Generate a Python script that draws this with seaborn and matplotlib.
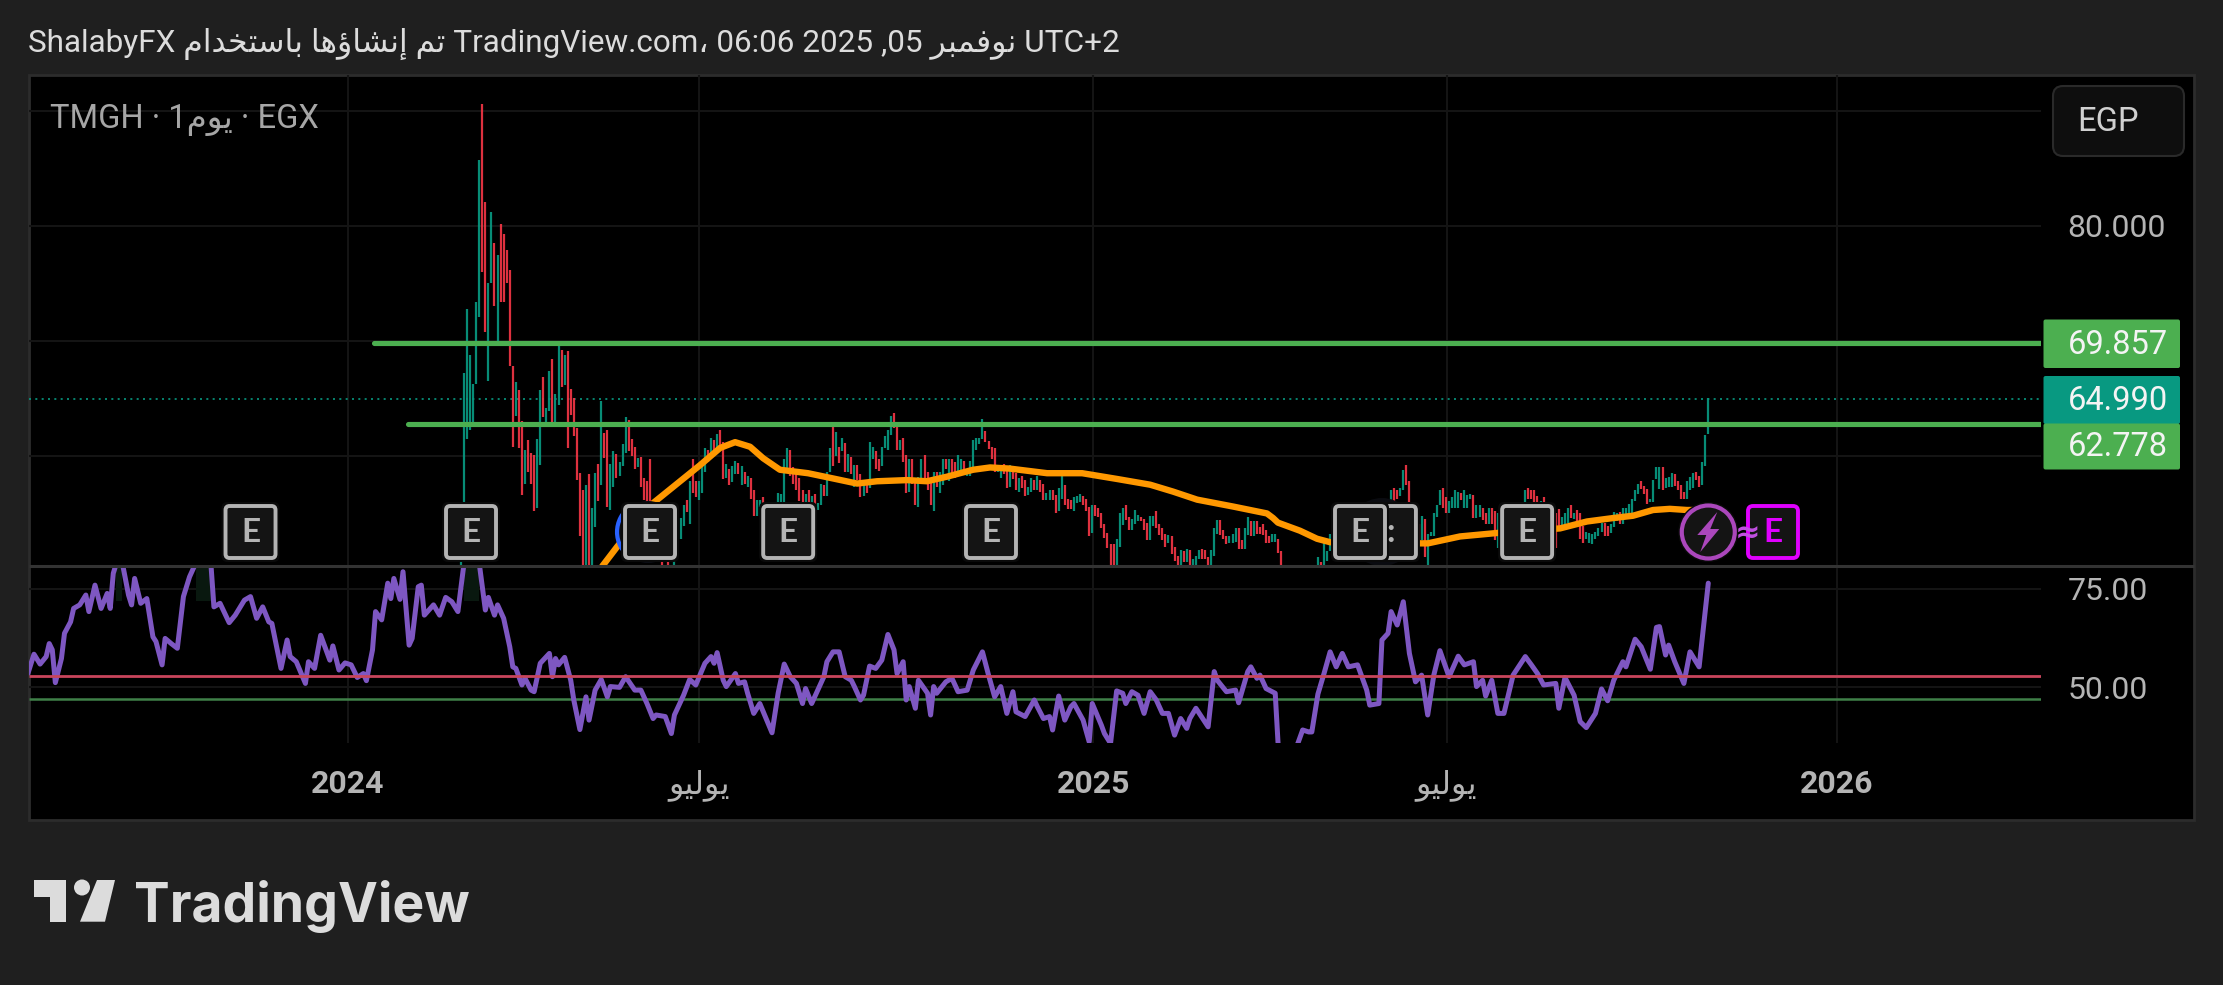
import matplotlib
matplotlib.use("Agg")
import numpy as np
import pandas as pd
import matplotlib.pyplot as plt
import seaborn as sns
from matplotlib.patches import FancyBboxPatch, Circle, Polygon, Rectangle, Arc

# ---------- data (x values are trading-bar numbers, 0 = start of 2024) ----------
symbol = "TMGH"
last_price = 64.99
level_high = 69.857
level_low = 62.778
level_high_start = 8.5
level_low_start = 19.7
rsi_upper = 52.87
rsi_lower = 47.03
last_bar = 446

bar_high = [
 56.0,67.2,72.8,68.8,66.3,73.4,85.7,90.6,82.1,75.0,
 81.2,78.5,77.5,80.2,79.3,77.9,76.2,67.8,66.4,65.7,
 63.0,60.5,61.4,60.3,60.1,61.5,65.7,66.9,64.2,67.4,
 68.4,65.4,69.8,69.2,68.8,69.1,65.8,65.0,62.4,58.5,
 57.0,57.5,58.4,55.5,58.5,59.3,64.8,62.0,62.3,59.3,
 60.4,60.2,59.5,61.0,63.4,63.1,61.5,60.8,59.8,59.9,
 58.1,57.8,59.7,55,55,55,55,55,55,55,
 55,55,54.6,55.7,56.2,57.8,59.7,57.8,57.8,59.5,
 60.7,60.5,
 61.6,61.4,61.9,62.3,61.2,59.3,58.9,59.1,59.6,59.4,
 59.1,58.6,58.3,58.1,57.0,56.2,56.2,56.4,55,55,
 55,55,56.8,56.7,59.7,60.7,60.5,59.0,58.4,58.1,
 57.0,56.7,57.0,56.5,56.7,55.9,57.6,57.5,58.6,60.7,
 62.6,62.1,60.8,61.6,61.1,60.2,59.9,59.2,59.2,58.4,
 57.7,57.5,61.2,60.8,60.4,59.7,60.8,61.7,62.3,63.5,
 63.7,62.6,61.4,61.6,60.1,59.7,59.7,58.1,58.2,59.7,
 60.1,58.6,58.1,58.6,58.6,58.6,59.7,59.7,59.7,59.7,
 59.5,60.1,59.7,59.6,58.8,59.6,61.4,61.6,61.6,63.2,
 62.2,61.3,60.8,60.7,59.2,
 58.9,59.3,59.1,59.2,58.6,58.5,58.1,58.3,57.9,57.3,
 58.1,57.9,58.3,57.9,57.6,56.8,57.0,57.0,56.6,57.2,58.6,
 57.5,56.3,56.2,56.4,56.5,56.7,56.5,56.3,55.6,55.7,
 55.7,55.5,55.0,54.1,53.3,52.3,52.3,52.8,55.0,55.5,
 55.7,54.7,54.5,55.3,54.9,54.7,54.5,54.2,54.8,54.8,
 55.2,54.1,53.7,53.2,53.1,53.0,52.1,51.3,51.8,51.7,
 51.9,51.8,51.0,51.3,51.8,51.9,51.8,51.2,51.8,53.7,
 54.4,54.4,53.6,53.0,53.0,53.2,53.7,53.7,52.7,53.7,
 54.7,54.3,54.3,54.3,53.8,54.1,53.6,53.0,53.2,53.2,
 52.8,51.7,
 50,50,50,50,50,50,50,50,50,50,50,
 51.2,50.8,52.8,51.7,53.2,
 55,55,55,55,55,55,55,55,55,55,55,55,55,55,55,55,55,55,55,
 57.0,57.2,57.0,57.2,58.8,59.2,57.8,56.0,54.8,54.1,
 54.8,54.5,53.2,53.4,55.0,55.7,57.0,57.2,56.4,56.1,
 56.4,57.0,56.9,56.8,57.0,56.6,56.7,56.6,55.7,55.7,
 55.5,55.0,55.5,55.5,55.2,
 55,55,55,55,55,55,55,55,55,
 57.0,57.2,57.0,57.0,56.5,56.1,56.4,
 55,55,55,55,
 55.4,54.7,55.0,55.5,55.7,55.0,55.3,55.0,53.9,53.4,
 53.3,53.2,53.4,53.7,54.2,54.2,53.9,54.1,55.1,55.0,
 55.1,55.5,55.5,55.8,56.3,57.0,57.6,57.8,57.4,57.1,
 56.3,57.9,59.0,59.0,59.0,58.1,58.2,58.5,58.4,57.8,
 57.5,56.9,57.8,58.2,58.5,58.6,58.3,59.5,61.8,65.0,
]
bar_low = [
 50.0,55.9,61.5,62.3,62.8,66.3,72.1,76.0,70.8,66.5,
 75.0,73.0,69.9,73.4,73.4,75.0,67.8,60.8,63.5,60.7,
 56.6,57.6,58.6,57.6,55.2,55.5,59.2,63.4,62.6,63.9,
 62.5,62.6,64.4,66.0,66.2,60.7,63.6,61.7,57.9,53.0,
 50,50,50,50,53.8,56.1,57.5,59.8,55.6,55.3,
 57.3,58.1,58.3,59.1,60.3,60.4,60.0,58.9,59.0,57.3,
 56.2,55.5,55.7,52,52,52,50,52,50,52,
 50,52,52.8,53.9,55.1,54.1,56.8,56.4,56.2,56.8,
 58.6,59.5,
 60.0,60.2,60.4,60.5,58.0,58.1,57.5,57.7,58.4,58.4,
 57.5,57.6,57.3,56.3,54.8,54.8,55.6,55.7,54,54,
 54,54,56.0,56.0,56.0,58.8,58.3,57.6,57.0,56.1,
 56.0,56.0,55.9,55.7,55.7,55.3,55.7,56.5,56.5,58.6,
 59.1,60.0,59.4,60.4,58.6,58.6,58.4,57.3,57.9,56.4,
 56.5,56.8,57.2,59.7,58.9,58.7,59.1,60.7,60.5,61.8,
 62.4,60.5,60.5,59.5,56.8,56.9,57.6,55.7,55.6,58.0,
 58.1,57.0,55.7,55.2,57.3,56.8,57.5,58.9,57.8,58.4,
 58.1,58.3,58.8,58.4,58.3,58.3,58.9,60.5,61.0,61.5,
 61.2,60.6,59.7,58.6,58.6,
 58.1,58.4,57.2,57.3,58.0,57.0,56.9,57.2,56.5,56.6,
 56.9,57.0,57.0,56.9,56.2,56.2,56.2,56.2,55.0,55.2,56.3,
 55.7,55.4,55.4,55.2,55.9,56.0,55.7,55.2,53.0,53.3,
 54.8,54.7,53.7,52.9,52.0,50,50,50,52.1,54.0,
 54.4,53.6,53.6,54.1,54.3,54.3,53.6,52.7,52.7,53.9,
 53.7,53.1,52.7,52.1,52.4,51.5,50.9,50,50,50.8,
 50.8,50,50,50.5,51.0,51.0,51.0,50,50,51.3,
 53.2,53.1,52.8,52.3,52.4,52.4,52.5,51.9,51.9,51.9,
 53.1,53.0,53.0,53.2,53.2,53.1,52.4,52.4,52.5,52.5,
 51.6,50,
 48,48,48,48,48,48,48,48,48,48,48,
 50,50,50,50.9,51.7,
 52,52,52,52,52,52,52,52,52,52,52,52,52,50.6,50.6,50.4,52,52,52,
 56.0,56.0,56.3,56.5,57.0,57.5,55.3,53.9,52.7,52.3,
 52.7,51.2,50.4,53.0,53.0,54.7,55.7,55.5,55.0,55.0,
 55.5,55.5,55.5,56.2,55.5,55.5,56.3,54.6,54.6,54.7,
 54.4,54.1,54.1,54.1,52.7,
 52,52,52,52,52,52,52,52,52,
 55.9,56.3,56.3,56.0,56.0,55.9,55.9,
 52,52,52,52,
 53.6,53.6,53.9,54.2,54.6,54.5,54.0,52.8,52.4,52.8,
 52.4,52.3,52.8,53.0,53.4,53.0,53.0,53.3,53.8,54.3,
 54.1,54.1,54.6,54.5,55.0,56.1,56.7,57.1,56.7,55.8,
 56.0,56.0,58.0,57.1,57.0,57.2,57.3,57.3,57.4,57.0,
 56.3,56.3,56.3,57.0,57.2,57.9,57.3,57.5,59.1,61.9,
]
bar_dir = ("GGGGGGGRRG" "GRGRRRRRGR" "RGRRRGGRGG" "RGGRGRRRRR" "RGRGGRGRRG"
           "GRGGGRRRGR" "RRRGRGRRRG" "GGGGRGRRGG" "GR"
           "GRGRRGRGGR" "GRGRRGGRGR" "GRGGGGRRRR" "RGRGRGGRGG" "RGRGRGRGRR"
           "GRGGRRGGGG" "RRGRRGRRGG" "RRRGRGGRGR" "RGGRGGGGGG" "RRRRG"
           "GRRGRRGRRG" "GRGRRGGRRGG" "RRRGGGRRRG" "RRRRRRRGGG" "RRGGGRRRGG"
           "RRRRGRRRGR" "GRGGGRRRGG" "GRRRGGGRRG" "GRGRRRRRGG" "RR"
           "RRRGGRGRGRG" "GRGGG" "GRGRGGRGRGRGRRRGRGR"
           "GRRGGRRRRR" "GRGGGGGRRG" "GGGRGGGRGG" "RRGRR"
           "GRGRGGRGR" "GRRRRGR" "GRGR"
           "RGGGRGRRRG" "GGGGGRRGGG" "RGGGGGGRRR" "GGGGRGGGRR" "RRGGGRRGGG")

ema_bar = [83.3,88.2,100,115.4,122,126.9,131.8,136.1,141.6,150.8,158,166.9,173.4,183.3,189.8,196.4,
           204.9,210.5,217,229.2,240.7,252.1,263,270.5,278.4,290.2,301.3,303.3,304.9,312.1,317.7,322,
           335.7,349.2,354.1,364.6,376.7,397.4,406.2,414.8,421.3,427.9,433.4,439,443.3]
ema_val = [50.4,52.1,55.9,59.2,60.7,61.2,60.8,59.8,58.8,58.5,58.1,57.6,57.8,57.9,57.8,58.2,
           58.8,59.0,58.9,58.5,58.5,58.0,57.5,56.9,56.2,55.6,55.0,54.6,54.2,53.5,52.8,52.5,
           52.2,52.4,52.4,53.0,53.3,53.7,54.3,54.6,54.8,55.3,55.4,55.3,55.3]

rsi_bar = [-105,-103,-101,-99,-98,-97,-96,-94,-93,-91,-90,-88,-86,-85,-83,-81,-79,-78,-77,-76,-74,-72,-71,-70,-68,-66,
 -64,-63,-61,-60,-58,-56,-54,-52,-50,-45,-44,-42,-39,-37,-34,-32,-30,-28,-26,-25,-22,-20,-19,-17,-14,-13,-11,-9,-6,-5,-3,-1,
 1,3,5,6,8,9,11,13,14,15,17,18,20,21,23,24,25,28,30,32,34,36,38,43,45,46,48,49,51,53,54,55,57,58,60,61,63,66,67,68,69,71,73,74,76,78,79,81,83,85,86,89,
 91,94,96,98,100,101,104,106,107,110,112,114,117,119,120,121,123,124,127,128,130,131,133,135,139,141,143,145,147,149,150,152,155,156,157,159,161,163,165,166,168,169,171,173,175,177,179,180,182,183,184,186,187,190,
 191,192,193,196,198,200,203,205,208,210,212,214,216,218,219,222,225,226,228,230,231,233,235,237,238,241,243,244,247,
 248,250,252,254,255,257,259,261,263,265,267,269,271,273,275,276,278,282,284,285,288,291,292,295,296,298,299,301,304,305,311,313,315,316,318,320,322,324,326,328,331,334,335,338,339,341,342,344,346,348,350,352,354,356,358,361,364,366,369,370,372,373,375,377,379,382,386,388,390,392,396,397,399,402,404,406,409,411,413,415,418,419,422,424,427,429,430,432,433,435,438,440,443,446]
rsi_val = [53.5,58.4,55.9,57.8,61.1,59.5,51.2,57.3,63.7,66.6,70.0,70.9,73.4,69.2,75.9,70.0,73.8,70.0,78.9,81.4,81.4,73.4,70.9,77.6,71.3,72.5,
 62.8,61.6,55.7,62.4,61.1,59.9,73.0,78.0,81.4,81.4,70.4,71.3,66.4,68.3,72.1,73.0,67.5,70.4,66.6,66.2,54.8,62.0,57.8,56.5,51.0,56.5,54.8,63.2,56.9,60.5,54.4,56.2,
 55.7,52.5,53.5,51.7,59.5,69.2,67.1,76.4,72.5,77.6,72.3,79.3,60.7,62.4,75.5,75.9,68.3,70.9,68.3,72.8,71.7,69.2,81.4,81.4,69.6,72.8,68.3,70.9,67.5,60.3,55.2,54.8,50.6,52.3,49.3,48.9,56.1,58.6,52.7,57.3,55.7,57.6,51.8,46.8,39.3,47.6,41.7,49.3,52.0,47.6,50.2,50.0,
 52.7,49.3,49.3,45.9,42.1,43.0,42.6,38.3,43.0,48.0,52.0,50.6,56.1,57.8,56.1,58.8,51.8,50.2,53.5,51.0,51.4,48.5,43.4,45.9,38.5,48.5,55.9,52.7,51.0,45.9,49.7,45.9,51.0,52.7,56.5,59.0,59.0,52.7,51.8,50.2,46.8,48.0,55.4,54.8,56.9,63.4,59.5,53.5,56.5,46.8,50.2,44.7,51.8,48.5,
 43.0,50.2,48.5,51.4,52.3,48.9,49.3,54.4,59.0,53.1,47.6,50.2,43.4,48.9,43.8,42.6,46.8,45.1,42.1,42.6,39.2,47.8,41.7,45.1,45.9,41.7,36.2,45.9,40.4,
 38.3,35.8,49.1,48.5,45.9,48.9,48.0,43.4,48.9,46.8,43.4,43.4,37.9,42.1,39.6,42.1,44.7,40.0,54.0,51.8,48.9,49.3,46.1,54.0,55.2,52.3,53.1,49.7,48.5,34.9,34.9,39.2,38.7,38.7,48.3,53.5,59.0,55.2,58.6,55.2,55.7,49.3,45.5,45.9,62.0,63.7,69.2,65.8,71.7,58.6,51.4,53.1,43.0,53.1,59.3,52.7,57.9,55.7,56.5,50.2,51.8,47.8,51.8,43.4,43.4,53.1,57.8,55.7,53.5,50.6,51.0,44.7,52.5,48.0,41.3,39.8,43.4,49.6,46.6,51.8,56.5,55.2,62.2,60.3,54.6,65.2,65.4,58.2,60.7,56.5,51.0,59.0,55.2,76.4]

earnings_bars = [-32, 40.3, 99, 144.3, 210.8, 331.8, 386.6]
dividend_bar = 340.3
split_bar = 99
time_tick_bars = [0, 115, 244.3, 360.2, 488.2]
price_ticks = [60, 70, 80, 90]
price_tick_labels = ["", "", "80.000", ""]
rsi_ticks = [50, 75]
rsi_tick_labels = ["50.00", "75.00"]

# ---------- minimal Arabic shaping: matplotlib draws glyphs left to right without joining ----------
FORMS = {"ا": (0xFE8D, 0xFE8E), "إ": (0xFE87, 0xFE88), "ؤ": (0xFE85, 0xFE86), "د": (0xFEA9, 0xFEAA),
         "ر": (0xFEAD, 0xFEAE), "و": (0xFEED, 0xFEEE),
         "ب": (0xFE8F, 0xFE90, 0xFE91, 0xFE92), "ت": (0xFE95, 0xFE96, 0xFE97, 0xFE98),
         "خ": (0xFEA5, 0xFEA6, 0xFEA7, 0xFEA8), "س": (0xFEB1, 0xFEB2, 0xFEB3, 0xFEB4),
         "ش": (0xFEB5, 0xFEB6, 0xFEB7, 0xFEB8), "ف": (0xFED1, 0xFED2, 0xFED3, 0xFED4),
         "ل": (0xFEDD, 0xFEDE, 0xFEDF, 0xFEE0), "م": (0xFEE1, 0xFEE2, 0xFEE3, 0xFEE4),
         "ن": (0xFEE5, 0xFEE6, 0xFEE7, 0xFEE8), "ه": (0xFEE9, 0xFEEA, 0xFEEB, 0xFEEC),
         "ي": (0xFEF1, 0xFEF2, 0xFEF3, 0xFEF4)}

def ar(text):
    out = []
    for k, ch in enumerate(text):
        f = FORMS.get(ch)
        if f is None:
            out.append(ch)
            continue
        prev = text[k - 1] if k else " "
        nxt = text[k + 1] if k + 1 < len(text) else " "
        join_prev = prev in FORMS and len(FORMS[prev]) == 4
        join_next = len(f) == 4 and nxt in FORMS
        idx = (3 if join_next else 1) if join_prev else (2 if join_next else 0)
        out.append(chr(f[idx]))
    return "".join(reversed(out))

title = "ShalabyFX " + ar("تم إنشاؤها باستخدام") + " TradingView.com، 06:06 2025 ,05 " + ar("نوفمبر") + " UTC+2"
legend_text = symbol + " · 1" + ar("يوم") + " · EGX"
july = ar("يوليو")
time_tick_labels = ["2024", july, "2025", july, "2026"]

# ---------- style ----------
BG = "#1f1f1f"
GREEN_C = "#089981"
RED_C = "#f23645"
LEVEL = "#4caf50"
ORANGE = "#ff9800"
PURPLE = "#7e57c2"
GRID = "#141414"
MUTED = "#b4b4b4"
sns.set_theme(style="dark", rc={"figure.facecolor": BG, "axes.facecolor": "none", "savefig.facecolor": BG})
FAM = ["Roboto", "DejaVu Sans"]
plt.rcParams["font.family"] = FAM

W, H = 2223, 985
fig = plt.figure(figsize=(W / 100, H / 100), dpi=100)

def px_axes(x0, y0, x1, y1, **kw):
    return fig.add_axes([x0 / W, 1 - y1 / H, (x1 - x0) / W, (y1 - y0) / H], **kw)

# black panel behind everything
bg = px_axes(0, 0, W, H, zorder=0)
bg.set_xlim(0, W); bg.set_ylim(H, 0); bg.axis("off")
bg.add_patch(Rectangle((28.5, 75), 2165.5, 745, fc="#000000", ec="#2c2c2c", lw=2))

XL = (-104.8, 555.1)
ax = px_axes(28.5, 75, 2041, 566, zorder=1)
rs = px_axes(28.5, 567, 2041, 743, zorder=1)

for a in (ax, rs):
    a.set_xlim(*XL)
    a.set_xticks(time_tick_bars)
    a.grid(True, color=GRID, lw=1.5)
    a.set_axisbelow(True)
    for s in a.spines.values():
        s.set_visible(False)
    a.patch.set_alpha(0)

# ---- price pane ----
ax.set_ylim(50.43, 93.13)
n = min(len(bar_high), len(bar_low), len(bar_dir))
bars = pd.DataFrame({"bar": np.arange(last_bar - n + 1, last_bar + 1),
                     "high": bar_high[:n], "low": bar_low[:n], "dir": list(bar_dir[:n])})
for key, col in (("G", GREEN_C), ("R", RED_C)):
    sub = bars[bars["dir"] == key]
    ax.vlines(sub["bar"], sub["low"], sub["high"], color=col, lw=1.6, alpha=0.92, zorder=3)

ax.hlines(last_price, XL[0], XL[1], color=GREEN_C, lw=1.2, linestyles=(0, (1.2, 2.6)), zorder=2)
ax.hlines(level_high, level_high_start, XL[1] + 5, color=LEVEL, lw=3.7, capstyle="round", zorder=4)
ax.hlines(level_low, level_low_start, XL[1] + 5, color=LEVEL, lw=3.7, capstyle="round", zorder=4)
sns.lineplot(x=ema_bar, y=ema_val, ax=ax, color=ORANGE, lw=4.6, estimator=None, sort=False,
             legend=False, zorder=5, solid_joinstyle="round")
ax.set_xlabel(""); ax.set_ylabel("")
ax.yaxis.tick_right()
ax.set_yticks(price_ticks, price_tick_labels)
ax.tick_params(axis="y", length=0, pad=19, labelsize=23, labelcolor=MUTED)
ax.tick_params(axis="x", length=0, labelbottom=False)

# ---- RSI pane ----
rs.set_ylim(35.9, 80.5)
rv = np.array(rsi_val, float)
rs.fill_between(rsi_bar, 72, rv, where=rv > 81, color="#09180f", lw=0, zorder=1)
rs.hlines(rsi_upper, XL[0], XL[1], color="#c8455c", lw=2.0, zorder=4)
rs.hlines(rsi_lower, XL[0], XL[1], color="#3f8048", lw=1.8, zorder=2)
sns.lineplot(x=rsi_bar, y=rsi_val, ax=rs, color=PURPLE, lw=3.6, estimator=None, sort=False,
             legend=False, zorder=3, solid_joinstyle="round")
rs.set_xlabel(""); rs.set_ylabel("")
rs.yaxis.tick_right()
rs.set_yticks(rsi_ticks, rsi_tick_labels)
rs.tick_params(axis="y", length=0, pad=19, labelsize=23, labelcolor=MUTED)
rs.set_xticks(time_tick_bars, time_tick_labels)
rs.tick_params(axis="x", length=0, pad=19, labelsize=23, labelcolor=MUTED)
for lab in rs.get_xticklabels():
    if lab.get_text()[:2] == "20":
        lab.set_fontweight("bold")

# ---- overlay in pixel coordinates: tags, markers, title, logo ----
ov = px_axes(0, 0, W, H, zorder=5)
ov.set_xlim(0, W); ov.set_ylim(H, 0); ov.axis("off"); ov.patch.set_alpha(0)

ov.plot([28.5, 2194], [566, 566], color="#333333", lw=2.2, solid_capstyle="butt")

def rbox(x0, y0, x1, y1, r=4, **kw):
    ov.add_patch(FancyBboxPatch((x0, y0), x1 - x0, y1 - y0, boxstyle=f"round,pad=0,rounding_size={r}", **kw))

fig.canvas.draw()
bar_px = lambda b: ax.transData.transform((b, 60))[0]

ov.text(28, 44, title, color="#dcdcdc", fontsize=22.7, va="center", ha="left", family=FAM)
ov.text(50, 120, legend_text, color="#a6a6a6", fontsize=23.5, va="center", ha="left", family=FAM)

rbox(2053, 86, 2184, 156, r=10, fc="#0e0e0e", ec="#2a2a2a", lw=1.5)
ov.text(2077, 122, "EGP", color="#d0d0d0", fontsize=23.5, va="center", ha="left")

tags = [(319.5, 368, LEVEL, f"{level_high:.3f}", 345),
        (376, 424, GREEN_C, f"{last_price:.3f}", 401),
        (423.5, 469.5, LEVEL, f"{level_low:.3f}", 447)]
for y0, y1, col, txt, yc in tags:
    rbox(2043.5, y0, 2180, y1, r=2, fc=col, ec="none")
    ov.text(2118, yc, txt, color="#f4f4f4", fontsize=23.5, va="center", ha="center")

EY = 532

def e_marker(cx, edge="#b4b4b4", txt="E", tcol=None):
    rbox(cx - 29, EY - 30, cx + 29, EY + 30, r=6, fc="#0a0a0a", ec="none")
    rbox(cx - 25, EY - 26, cx + 25, EY + 26, r=4, fc="#141414", ec=edge, lw=2.8)
    ov.text(cx, EY + 1, txt, color=tcol or edge, fontsize=24, fontweight="bold", va="center", ha="center",
            family=["Lato", "DejaVu Sans"])

sx = bar_px(split_bar)
ov.add_patch(Circle((sx - 2, EY), 31, fc="#0b0d14", ec="none"))
ov.add_patch(Arc((sx - 2, EY), 62, 62, theta1=125, theta2=235, color="#2962ff", lw=3))
dx = bar_px(dividend_bar)
ov.add_patch(Circle((dx - 4, EY), 34, fc="#0a0b10", ec="none"))
e_marker(dx + 5, txt=":")
for b in earnings_bars:
    e_marker(bar_px(b))

lx = bar_px(last_bar)
ov.add_patch(Circle((lx, EY), 30, fc="#0a0a0a", ec="none"))
ov.add_patch(Circle((lx, EY), 26.5, fc="#141414", ec="#ab47bc", lw=3))
ov.add_patch(Polygon([(lx + 9, EY - 20), (lx - 11, EY + 3), (lx - 2, EY + 3), (lx - 8, EY + 20),
                      (lx + 11, EY - 3), (lx + 2, EY - 3)], fc="#ab47bc", ec="none"))
rbox(1748, EY - 26, 1798, EY + 26, r=5, fc="#141414", ec="#e000ff", lw=2.8)
ov.text(1773, EY + 1, "E", color="#e000ff", fontsize=24, fontweight="bold", va="center", ha="center",
        family=["Lato", "DejaVu Sans"])
ov.text(1748, EY + 2, "≈", color="#c04fe0", fontsize=22, fontweight="bold", va="center", ha="center",
        family="DejaVu Sans")

# TradingView logo
LOGO = "#dcdcdc"
ov.add_patch(Polygon([(33.6, 880), (65.7, 880), (65.7, 921.7), (50, 921.7), (50, 897), (33.6, 897)], fc=LOGO, ec="none"))
ov.add_patch(Circle((82, 887.5), 8, fc=LOGO, ec="none"))
ov.add_patch(Polygon([(97, 880), (115, 880), (105, 921.7), (80, 921.7)], fc=LOGO, ec="none"))
ov.text(134, 921.7, "TradingView", color=LOGO, fontsize=38.5, fontweight="bold", va="baseline", ha="left",
        family=["Inter", "DejaVu Sans"])

fig.savefig("out.png", dpi=100, facecolor=BG)
